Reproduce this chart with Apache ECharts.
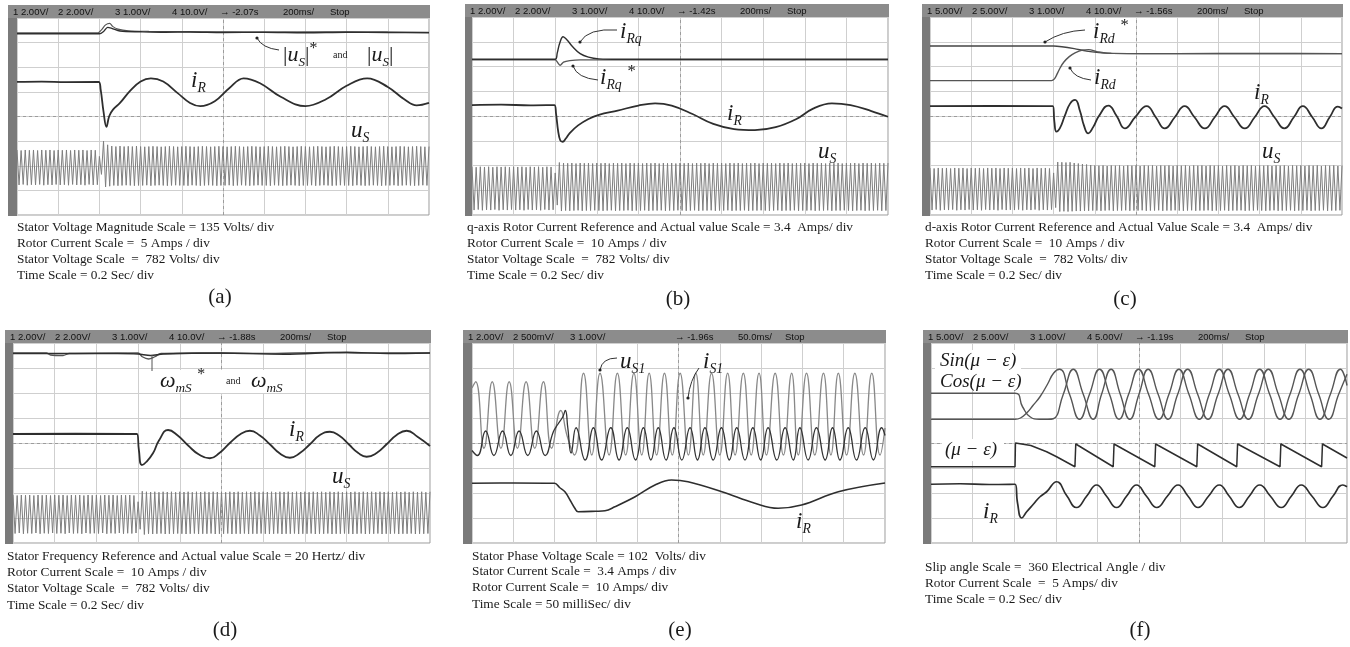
<!DOCTYPE html>
<html><head><meta charset="utf-8">
<script src="https://cdn.jsdelivr.net/npm/echarts@6/dist/echarts.min.js"></script>
<style>html,body{margin:0;padding:0;background:#fff}#c{width:1350px;height:647px}</style>
</head><body><div id="c"></div><script>
// ---------------- DATA (x in divisions 0..10, y in divisions -4..4) ----------------
const panelTags = ['(a)','(b)','(c)','(d)','(e)','(f)'];
const headA = ['1 2.00V/','2 2.00V/','3 1.00V/','4 10.0V/','\u2192 -2.07s','200ms/','Stop'];
const headB = ['1 2.00V/','2 2.00V/','3 1.00V/','4 10.0V/','\u2192 -1.42s','200ms/','Stop'];
const headC = ['1 5.00V/','2 5.00V/','3 1.00V/','4 10.0V/','\u2192 -1.56s','200ms/','Stop'];
const headD = ['1 2.00V/','2 2.00V/','3 1.00V/','4 10.0V/','\u2192 -1.88s','200ms/','Stop'];
const headE = ['1 2.00V/','2 500mV/','3 1.00V/','','\u2192 -1.96s','50.0ms/','Stop'];
const headF = ['1 5.00V/','2 5.00V/','3 1.00V/','4 5.00V/','\u2192 -1.19s','200ms/','Stop'];
const capA = ['Stator Voltage Magnitude Scale = 135 Volts/ div','Rotor Current Scale =  5 Amps / div','Stator Voltage Scale  =  782 Volts/ div','Time Scale = 0.2 Sec/ div'];
const capB = ['q-axis Rotor Current Reference and Actual value Scale = 3.4  Amps/ div','Rotor Current Scale =  10 Amps / div','Stator Voltage Scale  =  782 Volts/ div','Time Scale = 0.2 Sec/ div'];
const capC = ['d-axis Rotor Current Reference and Actual Value Scale = 3.4  Amps/ div','Rotor Current Scale =  10 Amps / div','Stator Voltage Scale  =  782 Volts/ div','Time Scale = 0.2 Sec/ div'];
const capD = ['Stator Frequency Reference and Actual value Scale = 20 Hertz/ div','Rotor Current Scale =  10 Amps / div','Stator Voltage Scale  =  782 Volts/ div','Time Scale = 0.2 Sec/ div'];
const capE = ['Stator Phase Voltage Scale = 102  Volts/ div','Stator Current Scale =  3.4 Amps / div','Rotor Current Scale =  10 Amps/ div','Time Scale = 50 milliSec/ div'];
const capF = ['Slip angle Scale =  360 Electrical Angle / div','Rotor Current Scale  =  5 Amps/ div','Time Scale = 0.2 Sec/ div'];

// sampling interval of the dense stator-voltage records (divisions per sample)
const usStep = 0.05;

// (a)
const aUsMagRef = [[0,3.4],[1.97,3.4],[2.05,3.52],[2.15,3.72],[2.25,3.78],[2.32,3.66],[2.45,3.55],[2.7,3.48],[3.2,3.46],[4.5,3.44],[6,3.43],[8,3.44],[10,3.42]];
const aUsMag = [[0,3.36],[2.0,3.36],[2.1,3.45],[2.2,3.62],[2.3,3.58],[2.5,3.47],[3,3.44],[3.6,3.42],[4.2,3.43],[5,3.41],[6,3.42],[7,3.4],[8,3.42],[9,3.41],[10,3.4]];
const aIr = [[0,1.41],[0.6,1.42],[1.2,1.4],[1.98,1.41],[2.03,1.1],[2.1,0.2],[2.17,-0.42],[2.24,0.02],[2.33,0.28],[2.5,0.55],[2.75,1.05],[3.0,1.42],[3.25,1.55],[3.55,1.42],[3.9,0.95],[4.2,0.55],[4.45,0.42],[4.8,0.62],[5.15,1.15],[5.5,1.55],[5.9,1.35],[6.4,0.8],[7.0,0.42],[7.5,0.7],[8.0,1.25],[8.5,1.55],[9.0,1.2],[9.4,0.7],[9.7,0.45],[10,0.55]];
const aUs = [
-1.36,-2.78,-1.38,-2.76,-1.36,-2.79,-1.37,-2.77,-1.36,-2.78,-1.38,-2.76,-1.36,-2.79,-1.37,-2.77,-1.36,-2.78,-1.38,-2.76,
-1.36,-2.78,-1.37,-2.77,-1.36,-2.79,-1.38,-2.76,-1.36,-2.78,-1.37,-2.77,-1.36,-2.79,-1.38,-2.76,-1.36,-2.78,-1.37,-2.77,
-1.62,-2.35,-1.0,-2.86,-1.15,-2.83,-1.2,-2.8,-1.22,-2.81,-1.2,-2.8,-1.22,-2.79,-1.21,-2.8,-1.22,-2.81,-1.2,-2.8,
-1.22,-2.8,-1.23,-2.79,-1.22,-2.81,-1.21,-2.8,-1.22,-2.79,-1.23,-2.8,-1.22,-2.81,-1.21,-2.8,-1.22,-2.79,-1.23,-2.8,
-1.22,-2.8,-1.21,-2.81,-1.22,-2.79,-1.23,-2.8,-1.22,-2.81,-1.21,-2.8,-1.22,-2.79,-1.23,-2.8,-1.22,-2.81,-1.21,-2.8,
-1.22,-2.8,-1.23,-2.79,-1.22,-2.81,-1.21,-2.8,-1.22,-2.79,-1.23,-2.8,-1.22,-2.81,-1.21,-2.8,-1.22,-2.79,-1.23,-2.8,
-1.22,-2.8,-1.21,-2.81,-1.22,-2.79,-1.23,-2.8,-1.22,-2.81,-1.21,-2.8,-1.22,-2.79,-1.23,-2.8,-1.22,-2.81,-1.21,-2.8,
-1.22,-2.8,-1.23,-2.79,-1.22,-2.81,-1.21,-2.8,-1.22,-2.79,-1.23,-2.8,-1.22,-2.81,-1.21,-2.8,-1.22,-2.79,-1.23,-2.8,
-1.22,-2.8,-1.21,-2.81,-1.22,-2.79,-1.23,-2.8,-1.22,-2.81,-1.21,-2.8,-1.22,-2.79,-1.23,-2.8,-1.22,-2.81,-1.21,-2.8,
-1.22,-2.8,-1.23,-2.79,-1.22,-2.81,-1.21,-2.8,-1.22,-2.79,-1.23,-2.8,-1.22,-2.81,-1.21,-2.8,-1.22,-2.79,-1.23,-2.8,
-1.22];

// (b)
const bIrqRef = [[0,2.27],[2.0,2.27],[2.05,2.18],[2.12,2.05],[2.2,2.18],[2.35,2.24],[2.6,2.27],[10,2.27]];
const bIrq = [[0,2.29],[2.0,2.29],[2.05,2.55],[2.11,2.95],[2.19,3.2],[2.28,3.08],[2.42,2.8],[2.6,2.52],[2.8,2.38],[3.05,2.31],[3.5,2.29],[10,2.29]];
const bIr = [[0,0.44],[0.7,0.46],[1.4,0.43],[1.98,0.44],[2.02,0.1],[2.07,-0.6],[2.12,-0.98],[2.18,-1.04],[2.25,-0.92],[2.35,-0.69],[2.55,-0.38],[2.8,-0.12],[3.05,0.05],[3.5,0.22],[4.0,0.42],[4.4,0.51],[4.8,0.42],[5.3,0.08],[5.8,-0.32],[6.3,-0.53],[6.8,-0.57],[7.3,-0.45],[7.8,-0.12],[8.2,0.3],[8.65,0.51],[9.1,0.44],[9.6,0.2],[10,-0.03]];
const bUs = [
-2.05,-3.8,-2.07,-3.78,-2.05,-3.81,-2.06,-3.79,-2.05,-3.8,-2.07,-3.78,-2.05,-3.81,-2.06,-3.79,-2.05,-3.8,-2.07,-3.78,
-2.05,-3.8,-2.06,-3.79,-2.05,-3.81,-2.07,-3.78,-2.05,-3.8,-2.06,-3.79,-2.05,-3.81,-2.07,-3.78,-2.05,-3.8,-2.06,-3.79,
-2.3,-3.6,-1.88,-3.84,-1.9,-3.82,-1.91,-3.83,-1.9,-3.82,-1.92,-3.81,-1.9,-3.83,-1.91,-3.82,-1.9,-3.82,-1.92,-3.81,
-1.9,-3.82,-1.91,-3.83,-1.9,-3.82,-1.92,-3.81,-1.9,-3.83,-1.91,-3.82,-1.9,-3.82,-1.92,-3.81,-1.9,-3.83,-1.91,-3.82,
-1.9,-3.82,-1.92,-3.81,-1.9,-3.83,-1.91,-3.82,-1.9,-3.82,-1.92,-3.81,-1.9,-3.83,-1.91,-3.82,-1.9,-3.82,-1.92,-3.81,
-1.9,-3.82,-1.91,-3.83,-1.9,-3.82,-1.92,-3.81,-1.9,-3.83,-1.91,-3.82,-1.9,-3.82,-1.92,-3.81,-1.9,-3.83,-1.91,-3.82,
-1.9,-3.82,-1.92,-3.81,-1.9,-3.83,-1.91,-3.82,-1.9,-3.82,-1.92,-3.81,-1.9,-3.83,-1.91,-3.82,-1.9,-3.82,-1.92,-3.81,
-1.9,-3.82,-1.91,-3.83,-1.9,-3.82,-1.92,-3.81,-1.9,-3.83,-1.91,-3.82,-1.9,-3.82,-1.92,-3.81,-1.9,-3.83,-1.91,-3.82,
-1.9,-3.82,-1.92,-3.81,-1.9,-3.83,-1.91,-3.82,-1.9,-3.82,-1.92,-3.81,-1.9,-3.83,-1.91,-3.82,-1.9,-3.82,-1.92,-3.81,
-1.9,-3.82,-1.91,-3.83,-1.9,-3.82,-1.92,-3.81,-1.9,-3.83,-1.91,-3.82,-1.9,-3.82,-1.92,-3.81,-1.9,-3.83,-1.91,-3.82,
-1.9];

// (c)
const cIrdRef = [[0,2.83],[3.0,2.83],[3.2,2.8],[3.5,2.72],[3.8,2.62],[4.1,2.56],[4.4,2.53],[6,2.52],[8,2.53],[10,2.52]];
const cIrd = [[0,1.43],[2.95,1.43],[3.02,1.5],[3.08,1.68],[3.16,1.95],[3.25,2.18],[3.38,2.4],[3.52,2.55],[3.7,2.66],[3.85,2.68],[4.05,2.6],[4.3,2.54],[5,2.52],[10,2.52]];
const cIr = [[0,0.4],[1.5,0.41],[2.98,0.4],[3.02,-0.25],[3.07,-0.63],[3.15,-0.5],[3.27,0.0],[3.4,0.5],[3.52,0.65],[3.64,0.2],[3.74,-0.4],[3.84,-0.7],[3.96,-0.45],[4.1,0.0],[4.33,0.42],[4.53,0.0],[4.73,-0.5],[4.98,-0.05],[5.26,0.4],[5.48,-0.05],[5.7,-0.5],[5.94,-0.05],[6.18,0.4],[6.42,-0.05],[6.67,-0.5],[6.91,-0.05],[7.15,0.4],[7.39,-0.05],[7.64,-0.5],[7.88,-0.05],[8.12,0.4],[8.36,-0.05],[8.6,-0.5],[8.83,-0.05],[9.05,0.4],[9.28,-0.05],[9.5,-0.5],[9.7,-0.05],[9.9,0.38],[10,0.3]];
const cUs = [
-2.1,-3.8,-2.12,-3.78,-2.1,-3.81,-2.11,-3.79,-2.1,-3.8,-2.12,-3.78,-2.1,-3.81,-2.11,-3.79,-2.1,-3.8,-2.12,-3.78,
-2.1,-3.8,-2.11,-3.79,-2.1,-3.81,-2.12,-3.78,-2.1,-3.8,-2.11,-3.79,-2.1,-3.81,-2.12,-3.78,-2.1,-3.8,-2.11,-3.79,
-2.1,-3.8,-2.12,-3.78,-2.1,-3.81,-2.11,-3.79,-2.1,-3.8,-2.12,-3.78,-2.1,-3.81,-2.11,-3.79,-2.1,-3.8,-2.12,-3.78,
-2.3,-3.7,-1.86,-3.86,-1.87,-3.85,-1.88,-3.86,-1.87,-3.85,-1.9,-3.84,-1.92,-3.84,-1.94,-3.83,-1.96,-3.83,-1.98,-3.82,
-2.0,-3.82,-2.01,-3.83,-2.0,-3.82,-2.02,-3.81,-2.0,-3.83,-2.01,-3.82,-2.0,-3.82,-2.02,-3.81,-2.0,-3.83,-2.01,-3.82,
-2.0,-3.82,-2.02,-3.81,-2.0,-3.83,-2.01,-3.82,-2.0,-3.82,-2.02,-3.81,-2.0,-3.83,-2.01,-3.82,-2.0,-3.82,-2.02,-3.81,
-2.0,-3.82,-2.01,-3.83,-2.0,-3.82,-2.02,-3.81,-2.0,-3.83,-2.01,-3.82,-2.0,-3.82,-2.02,-3.81,-2.0,-3.83,-2.01,-3.82,
-2.0,-3.82,-2.02,-3.81,-2.0,-3.83,-2.01,-3.82,-2.0,-3.82,-2.02,-3.81,-2.0,-3.83,-2.01,-3.82,-2.0,-3.82,-2.02,-3.81,
-2.0,-3.82,-2.01,-3.83,-2.0,-3.82,-2.02,-3.81,-2.0,-3.83,-2.01,-3.82,-2.0,-3.82,-2.02,-3.81,-2.0,-3.83,-2.01,-3.82,
-2.0,-3.82,-2.02,-3.81,-2.0,-3.83,-2.01,-3.82,-2.0,-3.82,-2.02,-3.81,-2.0,-3.83,-2.01,-3.82,-2.0,-3.82,-2.02,-3.81,
-2.0];

// (d)
const dWRef = [[0,3.6],[0.8,3.6],[0.9,3.52],[1.2,3.5],[1.35,3.58],[3.0,3.6],[3.1,3.45],[3.25,3.36],[3.4,3.45],[3.55,3.58],[4.5,3.6],[6,3.58],[7.5,3.62],[8.5,3.6],[10,3.6]];
const dW = [[0,3.58],[2.5,3.58],[3.0,3.56],[3.3,3.5],[3.6,3.56],[5,3.6],[6.5,3.55],[8,3.63],[9,3.58],[10,3.6]];
const dIr = [[0,0.36],[1.5,0.37],[2.97,0.36],[3.02,-0.3],[3.09,-0.88],[3.2,-0.75],[3.36,-0.4],[3.5,0.1],[3.72,0.52],[3.95,0.3],[4.2,-0.1],[4.45,-0.45],[4.72,-0.61],[4.95,-0.4],[5.2,0.0],[5.45,0.35],[5.68,0.49],[5.92,0.3],[6.16,-0.05],[6.4,-0.42],[6.64,-0.59],[6.88,-0.4],[7.12,-0.05],[7.36,0.32],[7.6,0.45],[7.82,0.3],[8.05,-0.05],[8.28,-0.4],[8.48,-0.55],[8.72,-0.4],[8.96,-0.05],[9.2,0.32],[9.44,0.49],[9.7,0.25],[10,-0.12]];
const dUs = [
-2.08,-3.62,-2.1,-3.6,-2.08,-3.63,-2.09,-3.61,-2.08,-3.62,-2.1,-3.6,-2.08,-3.63,-2.09,-3.61,-2.08,-3.62,-2.1,-3.6,
-2.08,-3.62,-2.09,-3.61,-2.08,-3.63,-2.1,-3.6,-2.08,-3.62,-2.09,-3.61,-2.08,-3.63,-2.1,-3.6,-2.08,-3.62,-2.09,-3.61,
-2.08,-3.62,-2.1,-3.6,-2.08,-3.63,-2.09,-3.61,-2.08,-3.62,-2.1,-3.6,-2.08,-3.63,-2.09,-3.61,-2.08,-3.62,-2.1,-3.6,
-2.35,-3.45,-1.93,-3.66,-1.95,-3.63,-1.96,-3.64,-1.95,-3.63,-1.97,-3.62,-1.95,-3.64,-1.96,-3.63,-1.95,-3.63,-1.97,-3.62,
-1.95,-3.63,-1.96,-3.64,-1.95,-3.63,-1.97,-3.62,-1.95,-3.64,-1.96,-3.63,-1.95,-3.63,-1.97,-3.62,-1.95,-3.64,-1.96,-3.63,
-1.95,-3.63,-1.97,-3.62,-1.95,-3.64,-1.96,-3.63,-1.95,-3.63,-1.97,-3.62,-1.95,-3.64,-1.96,-3.63,-1.95,-3.63,-1.97,-3.62,
-1.95,-3.63,-1.96,-3.64,-1.95,-3.63,-1.97,-3.62,-1.95,-3.64,-1.96,-3.63,-1.95,-3.63,-1.97,-3.62,-1.95,-3.64,-1.96,-3.63,
-1.95,-3.63,-1.97,-3.62,-1.95,-3.64,-1.96,-3.63,-1.95,-3.63,-1.97,-3.62,-1.95,-3.64,-1.96,-3.63,-1.95,-3.63,-1.97,-3.62,
-1.95,-3.63,-1.96,-3.64,-1.95,-3.63,-1.97,-3.62,-1.95,-3.64,-1.96,-3.63,-1.95,-3.63,-1.97,-3.62,-1.95,-3.64,-1.96,-3.63,
-1.95,-3.63,-1.97,-3.62,-1.95,-3.64,-1.96,-3.63,-1.95,-3.63,-1.97,-3.62,-1.95,-3.64,-1.96,-3.63,-1.95,-3.63,-1.97,-3.62,
-1.95];

// (e)
const eUs1 = [[0,2.2],[0.09,2.45],[0.29,-0.21],[0.49,2.45],[0.7,-0.21],[0.9,2.45],[1.1,-0.21],[1.31,2.45],[1.52,-0.21],[1.73,2.45],[1.93,-0.21],[2.15,1.3],[2.3,0.3],[2.48,-0.48],[2.7,2.79],[2.9,-0.48],[3.1,2.79],[3.32,-0.48],[3.52,2.79],[3.72,-0.48],[3.92,2.79],[4.11,-0.48],[4.29,2.79],[4.47,-0.48],[4.66,2.79],[4.85,-0.48],[5.04,2.79],[5.24,-0.48],[5.42,2.79],[5.6,-0.48],[5.8,2.79],[6.0,-0.48],[6.19,2.79],[6.37,-0.48],[6.57,2.79],[6.76,-0.48],[6.95,2.79],[7.13,-0.48],[7.34,2.79],[7.54,-0.48],[7.74,2.79],[7.9,-0.48],[8.1,2.79],[8.3,-0.48],[8.51,2.79],[8.69,-0.48],[8.87,2.79],[9.07,-0.48],[9.27,2.79],[9.48,-0.48],[9.68,2.79],[9.88,-0.48],[10,0.6]];
const eIs1 = [[0,-0.3],[0.13,-0.5],[0.33,0.48],[0.53,-0.5],[0.74,0.48],[0.94,-0.5],[1.14,0.48],[1.35,-0.5],[1.56,0.48],[1.77,-0.5],[1.97,0.45],[2.08,0.75],[2.2,1.05],[2.26,1.3],[2.32,0.6],[2.4,-0.4],[2.52,0.61],[2.74,-0.68],[2.94,0.61],[3.14,-0.68],[3.36,0.61],[3.56,-0.68],[3.76,0.61],[3.96,-0.68],[4.15,0.61],[4.33,-0.68],[4.51,0.61],[4.7,-0.68],[4.89,0.61],[5.08,-0.68],[5.28,0.61],[5.46,-0.68],[5.64,0.61],[5.84,-0.68],[6.04,0.61],[6.23,-0.68],[6.41,0.61],[6.61,-0.68],[6.8,0.61],[6.99,-0.68],[7.17,0.61],[7.38,-0.68],[7.58,0.61],[7.78,-0.68],[7.94,0.61],[8.14,-0.68],[8.34,0.61],[8.55,-0.68],[8.73,0.61],[8.91,-0.68],[9.11,0.61],[9.31,-0.68],[9.52,0.61],[9.72,-0.68],[9.92,0.61],[10,0.3]];
const eIr = [[0,-1.61],[1,-1.6],[2.0,-1.61],[2.12,-1.78],[2.25,-1.95],[2.38,-2.3],[2.49,-2.61],[2.57,-2.75],[3.0,-2.73],[3.22,-2.71],[3.46,-2.55],[3.95,-2.15],[4.43,-1.68],[4.83,-1.48],[5.23,-1.55],[6.05,-1.95],[6.85,-2.41],[7.41,-2.61],[7.98,-2.48],[8.87,-1.95],[10,-1.6]];

// (f)
const fSin = [[0,1.99],[2.02,1.99],[2.2,1.45],[2.38,1.05],[2.6,0.95],[2.8,0.95],[2.94,0.97],[3.18,1.95],[3.42,2.95],[3.66,1.95],[3.9,0.95],[4.1,1.95],[4.33,2.95],[4.55,1.95],[4.78,0.95],[5.0,1.95],[5.22,2.95],[5.46,1.95],[5.7,0.95],[5.93,1.95],[6.17,2.95],[6.41,1.95],[6.66,0.95],[6.9,1.95],[7.14,2.95],[7.38,1.95],[7.63,0.95],[7.87,1.95],[8.11,2.95],[8.35,1.95],[8.6,0.95],[8.84,1.95],[9.08,2.95],[9.32,1.95],[9.56,0.95],[9.8,1.95],[10,2.75]];
const fCos = [[0,0.95],[2.02,0.95],[2.15,1.0],[2.3,1.2],[2.45,1.5],[2.62,1.85],[2.8,2.35],[2.95,2.8],[3.09,2.95],[3.33,1.95],[3.57,0.95],[3.81,1.95],[4.05,2.95],[4.29,1.95],[4.52,0.95],[4.75,1.95],[4.99,2.95],[5.23,1.95],[5.48,0.95],[5.72,1.95],[5.96,2.95],[6.2,1.95],[6.45,0.95],[6.69,1.95],[6.93,2.95],[7.17,1.95],[7.42,0.95],[7.66,1.95],[7.9,2.95],[8.14,1.95],[8.39,0.95],[8.63,1.95],[8.87,2.95],[9.11,1.95],[9.35,0.95],[9.6,1.95],[9.84,2.95],[10,2.3]];
const fAng = [[0,-0.95],[2.02,-0.95],[2.03,0.0],[2.4,-0.1],[2.78,-0.35],[3.02,-0.55],[3.46,-0.95],[3.48,-0.04],[4.38,-0.95],[4.4,-0.04],[5.38,-0.95],[5.4,-0.04],[6.39,-0.95],[6.41,-0.04],[7.35,-0.95],[7.37,-0.04],[8.39,-0.95],[8.41,-0.04],[9.39,-0.95],[9.41,-0.04],[10,-0.6]];
const fIr = [[0,-1.65],[0.7,-1.63],[1.4,-1.66],[2.02,-1.65],[2.08,-2.4],[2.18,-3.0],[2.3,-2.75],[2.46,-2.45],[2.62,-2.15],[2.78,-1.95],[3.02,-1.55],[3.26,-2.1],[3.5,-2.58],[3.74,-2.13],[3.98,-1.68],[4.22,-2.13],[4.46,-2.58],[4.7,-2.13],[4.94,-1.68],[5.18,-2.13],[5.43,-2.58],[5.68,-2.13],[5.94,-1.68],[6.18,-2.13],[6.42,-2.58],[6.67,-2.13],[6.93,-1.68],[7.17,-2.13],[7.41,-2.58],[7.65,-2.13],[7.9,-1.68],[8.16,-2.13],[8.42,-2.58],[8.66,-2.13],[8.9,-1.68],[9.16,-2.13],[9.42,-2.58],[9.66,-2.13],[9.9,-1.68],[10,-1.75]];

// ---------------- LAYOUT ----------------
const grids = [
 {left:17, top:18, width:412, height:197, strip:8},
 {left:472, top:17, width:416, height:198, strip:465},
 {left:930, top:17, width:412, height:198, strip:922},
 {left:13, top:343, width:417, height:200, strip:5},
 {left:472, top:343, width:413, height:200, strip:463},
 {left:931, top:343, width:416, height:200, strip:923}
];
const heads = [headA, headB, headC, headD, headE, headF];
const headCols = [5, 50, 107, 164, 212, 275, 322];
const SERIF = '"Liberation Serif","Times New Roman",serif';
const meas = document.createElement('canvas').getContext('2d');
function tw(s, font){ meas.font = font; return meas.measureText(s).width; }
const G = [];
function txt(x, y, s, size, o){
  o = o || {};
  G.push({type:'text', x:x, y:y, silent:true, z:100,
    style:{text:s, fontSize:size, fontFamily:o.family||SERIF, fontStyle:o.italic?'italic':'normal',
      fontWeight:o.weight||'normal', fill:o.fill||'#1a1a1a', align:o.align||'left', verticalAlign:'middle'}});
}
function math(x, y, size, parts){
  let cx = x;
  parts.forEach(function(p){
    const t = p[0], k = p[1];
    let fs = size, dy = 0, it = true;
    if (k === 'sub') { fs = size*0.6; dy = size*0.33; }
    if (k === 'n') { it = false; }
    if (k === 'star') { it = false; fs = size*0.72; dy = -size*0.28; }
    const font = (it?'italic ':'') + fs + 'px ' + SERIF;
    txt(cx, y+dy, t, fs, {italic:it});
    cx += tw(t, font);
  });
}
function rect(x, y, w, h, fill, z){ G.push({type:'rect', silent:true, z:z||40, shape:{x:x,y:y,width:w,height:h}, style:{fill:fill}}); }
function leader(x1,y1,cx,cy,x2,y2){
  G.push({type:'bezierCurve', silent:true, z:90, shape:{x1:x1,y1:y1,cpx1:cx,cpy1:cy,x2:x2,y2:y2}, style:{stroke:'#333', lineWidth:1, fill:null}});
  G.push({type:'circle', silent:true, z:90, shape:{cx:x1, cy:y1, r:1.6}, style:{fill:'#222'}});
}

// screen frames: header bar + left strip + header readouts
grids.forEach(function(g, i){
  const right = g.left + g.width;
  rect(g.strip, g.top - 13, right - g.strip + 1, 13, '#8c8c8c', 5);
  rect(g.strip, g.top, g.left - g.strip, g.height + 1, '#7a7a7a', 5);
  heads[i].forEach(function(s, j){
    if (s) txt(g.strip + headCols[j], g.top - 6, s, 9.5, {family:'"Liberation Sans",Arial,sans-serif', fill:'#111'});
  });
});

// captions and tags
function caption(x, ys, lines){ lines.forEach(function(s, j){ txt(x, ys[j], s, 13.3); }); }
caption(17, [228,244,260,276], capA);
caption(467, [228,244,260,276], capB);
caption(925, [228,244,260,276], capC);
caption(7, [557,573,589,606], capD);
caption(472, [557,572,588,605], capE);
caption(925, [568,584,600], capF);
txt(220, 297, panelTags[0], 21, {align:'center'});
txt(678, 299, panelTags[1], 21, {align:'center'});
txt(1125, 299, panelTags[2], 21, {align:'center'});
txt(225, 630, panelTags[3], 21, {align:'center'});
txt(680, 630, panelTags[4], 21, {align:'center'});
txt(1140, 630, panelTags[5], 21, {align:'center'});

// annotations (a)
math(283, 55, 22, [['|','n'],['u','it'],['S','sub'],['|','n'],['*','star']]);
txt(333, 55, 'and', 10);
math(367, 55, 22, [['|','n'],['u','it'],['S','sub'],['|','n']]);
leader(257, 38, 262, 48, 279, 50);
math(191, 81, 23, [['i','it'],['R','sub']]);
math(351, 131, 23, [['u','it'],['S','sub']]);
// (b)
math(620, 32, 23, [['i','it'],['Rq','sub']]);
leader(580, 42, 588, 28, 617, 30);
math(600, 78, 23, [['i','it'],['Rq','sub'],[' ','n'],['*','star']]);
leader(573, 66, 577, 78, 598, 80);
math(727, 114, 23, [['i','it'],['R','sub']]);
math(818, 152, 23, [['u','it'],['S','sub']]);
// (c)
math(1093, 32, 23, [['i','it'],['Rd','sub'],[' ','n'],['*','star']]);
leader(1045, 42, 1062, 31, 1085, 30);
math(1094, 78, 23, [['i','it'],['Rd','sub']]);
leader(1070, 68, 1074, 78, 1091, 80);
math(1254, 93, 23, [['i','it'],['R','sub']]);
math(1262, 152, 23, [['u','it'],['S','sub']]);
// (d)
rect(152, 370, 140, 23, '#fff', 45);
math(160, 381, 22, [['\u03c9','it'],['mS','sub'],[' ','n'],['*','star']]);
txt(226, 381, 'and', 10);
math(251, 381, 22, [['\u03c9','it'],['mS','sub']]);
G.push({type:'line', silent:true, z:90, shape:{x1:152,y1:355,x2:152,y2:371}, style:{stroke:'#555', lineWidth:1}});
math(289, 430, 23, [['i','it'],['R','sub']]);
math(332, 477, 23, [['u','it'],['S','sub']]);
// (e)
math(620, 362, 23, [['u','it'],['S1','sub']]);
leader(600, 370, 602, 358, 617, 358);
math(703, 362, 23, [['i','it'],['S1','sub']]);
leader(688, 398, 690, 380, 699, 368);
math(796, 522, 23, [['i','it'],['R','sub']]);
// (f)
rect(935, 350, 86, 40, '#fff', 45);
math(940, 361, 19, [['Sin','it'],['(\u03bc \u2212 \u03b5)','it']]);
math(940, 382, 19, [['Cos','it'],['(\u03bc \u2212 \u03b5)','it']]);
rect(942, 439, 62, 22, '#fff', 45);
math(945, 450, 19, [['(\u03bc \u2212 \u03b5)','it']]);
math(983, 512, 23, [['i','it'],['R','sub']]);

// ---------------- CHART ----------------
const center = {silent:true, symbol:'none', label:{show:false}, animation:false,
  lineStyle:{type:[3,3], color:'#9c9c9c', width:1}, data:[{yAxis:0},{xAxis:5}]};
const series = [];
function line(gi, pts, color, width, smooth, withCenter){
  const s = {type:'line', xAxisIndex:gi, yAxisIndex:gi, data:pts, showSymbol:false, symbol:'none',
    smooth:smooth||false, animation:false, silent:true, z:10,
    lineStyle:{color:color, width:width}};
  if (withCenter) s.markLine = center;
  series.push(s);
}
function dense(arr){ return arr.map(function(v, i){ return [i*usStep, v]; }); }
const DK = '#2e2e2e', GR = '#7e7e7e';
// (a)
line(0, dense(aUs), GR, 1, false, true);
line(0, aUsMagRef, '#555', 1.2, 0.3);
line(0, aUsMag, DK, 1.4, 0.3);
line(0, aIr, DK, 1.8, 0.4);
// (b)
line(1, dense(bUs), GR, 1, false, true);
line(1, bIrqRef, '#555', 1.3, 0.3);
line(1, bIrq, DK, 1.4, 0.4);
line(1, bIr, DK, 1.8, 0.4);
// (c)
line(2, dense(cUs), GR, 1, false, true);
line(2, cIrdRef, '#444', 1.4, 0.3);
line(2, cIrd, '#555', 1.4, 0.4);
line(2, cIr, DK, 1.8, 0.5);
// (d)
line(3, dense(dUs), GR, 1, false, true);
line(3, dWRef, '#555', 1.3, 0.3);
line(3, dW, DK, 1.4, 0.3);
line(3, dIr, DK, 1.8, 0.5);
// (e)
line(4, eUs1, '#888', 1.3, 0.5, true);
line(4, eIs1, '#333', 1.3, 0.5);
line(4, eIr, DK, 1.6, 0.4);
// (f)
line(5, fSin, '#555', 1.4, 0.5, true);
line(5, fCos, '#555', 1.4, 0.5);
line(5, fAng, DK, 1.5, false);
line(5, fIr, DK, 1.7, 0.5);

const xAxes = grids.map(function(g, i){ return {gridIndex:i, type:'value', min:0, max:10, interval:1,
  axisLine:{show:false}, axisTick:{show:false}, axisLabel:{show:false},
  splitLine:{show:true, lineStyle:{color:'#cfcfcf', width:1}}}; });
const yAxes = grids.map(function(g, i){ return {gridIndex:i, type:'value', min:-4, max:4, interval:1,
  axisLine:{show:false}, axisTick:{show:false}, axisLabel:{show:false},
  splitLine:{show:true, lineStyle:{color:'#cfcfcf', width:1}}}; });

const chart = echarts.init(document.getElementById('c'), null, {renderer:'canvas', width:1350, height:647});
chart.setOption({
  animation:false,
  backgroundColor:'#ffffff',
  grid: grids.map(function(g){ return {left:g.left, top:g.top, width:g.width, height:g.height,
    show:true, backgroundColor:'#ffffff', borderColor:'#9a9a9a', borderWidth:1}; }),
  xAxis: xAxes,
  yAxis: yAxes,
  series: series,
  graphic: {elements: G}
});
</script></body></html>
